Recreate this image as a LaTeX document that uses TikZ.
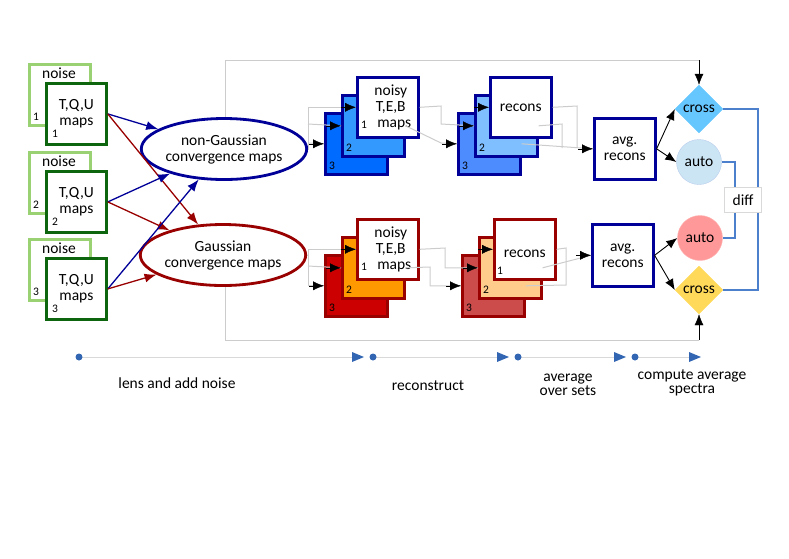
\documentclass[tikz,border=0pt]{standalone}
\usepackage{fontspec}
\setmainfont{Carlito}
\usetikzlibrary{shapes.geometric,arrows.meta}
\definecolor{lgreen}{rgb}{0.6,0.82,0.45}
\definecolor{dgreen}{rgb}{0.05,0.4,0.05}
\definecolor{dblue}{rgb}{0,0,0.6}
\definecolor{dred}{rgb}{0.6,0,0}
\definecolor{tl}{rgb}{0.2,0.4,0.7}
\definecolor{ln}{rgb}{0.3,0.5,0.8}
\definecolor{c1}{rgb}{0,0.42,1}\definecolor{c2}{rgb}{0.2,0.6,1}
\definecolor{c3}{rgb}{0.3,0.55,1}\definecolor{c4}{rgb}{0.5,0.75,1}
\definecolor{c5}{rgb}{0.8,0,0}\definecolor{c6}{rgb}{1,0.6,0}
\definecolor{c7}{rgb}{0.8,0.3,0.3}\definecolor{c8}{rgb}{1,0.8,0.55}
\definecolor{crossb}{rgb}{0.4,0.78,1}\definecolor{autob}{rgb}{0.8,0.9,0.96}
\definecolor{autor}{rgb}{1,0.6,0.6}\definecolor{crossy}{rgb}{1,0.85,0.35}
\tikzset{x=1pt,y=-1pt,
 every node/.style={font=\fontsize{15.5}{16}\selectfont},
 sq/.style={draw,line width=2.6pt,minimum width=60pt,minimum height=60pt,inner sep=0pt,anchor=north west,fill=white,align=center},
 sm/.style={font=\fontsize{11.5}{11.5}\selectfont,inner sep=0pt},
 gl/.style={draw=black!20,line width=1pt},
 ar/.style={-{Latex[length=11pt,width=9pt]}},
 cn/.style={line width=1.3pt,-{Latex[length=12pt,width=9pt]}},
 ell/.style={ellipse,line width=2.8pt,minimum width=137pt,minimum height=61pt,inner sep=0pt,fill=white,align=center},
 bl/.style={draw=ln,line width=1.2pt}}
\begin{document}
\begin{tikzpicture}
\useasboundingbox (0,0) rectangle (789,558);
% gray frame
\coordinate (ft) at (699,60); \coordinate (fb) at (699,340);
\draw[gl] (225,180) |- (ft); \draw[gl] (225,225) |- (fb);
% input sets
\foreach \i/\y in {1/63,2/151,3/238}{
 \node[sq,draw=lgreen,line width=2.8pt,minimum width=61pt,minimum height=61pt] (n\i) at (28,\y) {};
 \node at (59,\y+10) {noise};
 \node[sm] at (36,\y+54) {\i};
 \node[sq,draw=dgreen,line width=2.8pt,minimum width=60pt,minimum height=61pt] (t\i) at (45,\y+19) {T,Q,U\\maps};
 \node[sm] at (55,\y+71) {\i};
}
\node[ell,draw=dblue] (ng) at (224,149) {non-Gaussian\\convergence maps};
\node[ell,draw=dred] (g) at (223,255) {Gaussian\\convergence maps};
\foreach \i in {1,2,3}{
 \draw[cn,dblue] (t\i.east) -- (ng);
 \draw[cn,dred] (t\i.east) -- (g);
}
% stacks
\foreach \n/\x/\y/\ca/\cb/\bd in {bn/324/76/c1/c2/dblue,br/457/76/c3/c4/dblue,rn/324/218/c5/c6/dred,rr/461/218/c7/c8/dred}{
 \node[sq,draw=\bd,fill=\ca,minimum width=62pt,minimum height=61pt] (\n3) at (\x,\y+36) {};
 \node[sm] at (\x+8,\y+90) {3};
 \node[sq,draw=\bd,fill=\cb,minimum width=62pt,minimum height=61pt] (\n2) at (\x+17,\y+18) {};
 \node[sm] at (\x+25,\y+72) {2};
 \node[sq,draw=\bd,minimum width=61pt,minimum height=60pt] (\n1) at (\x+32,\y) {};
}
\foreach \n in {bn,rn}{\node[align=center] at ([xshift=3pt]\n1.center) {noisy\\T,E,B\\\ \ maps};}
\node[sm] at (364,125) {1}; \node[sm] at (364,267) {1};
\node at (br1.center) {recons}; \node at ([yshift=-4pt]rr1.center) {recons}; \node[sm] at (500,271) {1};
\node[sq,draw=dblue,minimum width=61pt,minimum height=61pt] (ab) at (593,117) {avg.\\recons};
\node[sq,draw=dblue,minimum width=61pt,minimum height=62pt] (ar) at (591,223) {avg.\\recons};
% gray connectors top
\draw[gl] (ng.east) -- (308,149) |- (bn1.west);
\draw[gl] (308,124) -- (bn2.west);
\draw[gl] (308,143) -- (bn3.west);
\draw[gl] (bn1.east) -- (441,106) -- (441,124) -- (br2.west);
\draw[gl] (bn2.east) -- (441,143) -- (br3.west);
\draw[gl] (br1.east) -- (577,106) -- (577,148);
\draw[gl] (br2.east) -- (562,124) -- (562,148);
\draw[gl] (br3.east) -- (ab.west);
\foreach \p in {bn3,bn2,bn1,br3,br2,br1,ab}{\draw[ar] (\p.west) ++(-15,0) -- (\p.west);}
% gray connectors bottom
\draw[gl] (g.east) -- (308,255) |- (rn1.west);
\draw[gl] (308,266) -- (rn2.west); \draw[gl] (308,255) |- (rn3.west);
\draw[gl] (rn1.east) -- (445,248) |- (rr2.west);
\draw[gl] (rn2.east) -- (430,267) |- (rr3.west);
\draw[gl] (rr1.east) -- (566,248) -- (566,285) -- (rr3.east);
\draw[gl] (rr2.east) -- (ar.west);
\foreach \p in {rn3,rn2,rn1,rr3,rr2,rr1,ar}{\draw[ar] (\p.west) ++(-15,0) -- (\p.west);}
% spectra
\node[diamond,fill=crossb,draw=crossb,minimum width=48pt,minimum height=48pt,inner sep=0pt] (xt) at (699,109) {cross};
\node[circle,fill=autob,draw=ln!40,minimum size=45pt,inner sep=0pt] (at) at (699,162) {auto};
\node[circle,fill=autor,draw=red!30,minimum size=45pt,inner sep=0pt] (ab2) at (700,238) {auto};
\node[diamond,fill=crossy,draw=crossy,minimum width=48pt,minimum height=48pt,inner sep=0pt] (xb) at (699,290) {cross};
\draw[ar,black] (ft) -- (xt.north);
\draw[ar,black] (fb) -- (xb.south);
\draw[ar,line width=0.9pt] (ab.east) -- (xt.west); \draw[ar,line width=0.9pt] (ab.east) -- (at.west);
\draw[ar,line width=0.9pt] (ar.east) -- (ab2.west); \draw[ar,line width=0.9pt] (ar.east) -- (xb.west);
\draw[bl] (xt.east) -- (758,109) -- (758,290) -- (xb.east);
\draw[bl] (at.east) -- (735,162) -- (735,238) -- (ab2.east);
\node[draw=black!15,fill=white,minimum width=37pt,minimum height=25pt,inner sep=0pt] (df) at (743,200) {diff};
% timeline
\coordinate (d1) at (79,357);\coordinate (d2) at (373,357);\coordinate (d3) at (518,357);\coordinate (d4) at (635,357);
\coordinate (e1) at (362,357);\coordinate (e2) at (507,357);\coordinate (e3) at (624,357);\coordinate (e4) at (699,357);
\foreach \a/\b in {d1/e1,d2/e2,d3/e3,d4/e4}{
 \draw[black!15,line width=0.8pt] (\a) -- (\b);
 \fill[tl] (\a) circle (3.5pt);
 \fill[tl] (\b) ++(2,0) -- ++(-12,-5) -- ++(0,10) -- cycle;
}
\node at (177,383) {lens and add noise};
\node at (428,386) {reconstruct};
\node[align=center] at (568,385) {average\\[-2pt]over sets};
\node[align=center] at (692,383) {compute average\\[-2pt]spectra};
\end{tikzpicture}
\end{document}
